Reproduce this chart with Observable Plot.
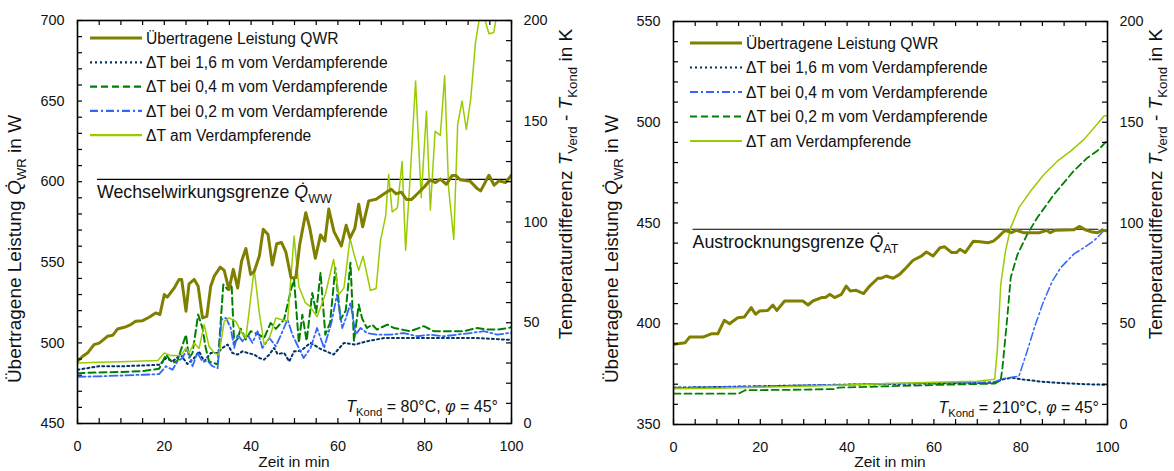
<!DOCTYPE html>
<html><head><meta charset="utf-8">
<script src="https://cdn.jsdelivr.net/npm/d3@7"></script>
<script src="https://cdn.jsdelivr.net/npm/@observablehq/plot@0.6"></script>
<style>
body{margin:0;background:#fff;}
#chart{position:relative;width:1174px;height:471px;font-family:"Liberation Sans",Arial,sans-serif;overflow:hidden;}
.panel{position:absolute;top:0;}
</style></head><body><div id="chart"></div>
<script>
// ---------- shared ticks ----------
const xMajor = [0, 20, 40, 60, 80, 100];
const xMinor = [0,5,10,15,20,25,30,35,40,45,50,55,60,65,70,75,80,85,90,95,100];
const kMajor = [0, 50, 100, 150, 200];
const kMinor = [0,10,20,30,40,50,60,70,80,90,100,110,120,130,140,150,160,170,180,190,200];

// ---------- left panel (T_Kond = 80 °C) ----------
const L_wMajor = [450, 500, 550, 600, 650, 700];
const L_power = [[0,488.6],[1.2,491.7],[2.3,493.7],[3.8,498.9],[5,499.9],[6.9,504.1],[8.1,504.7],[9.2,508.6],[10.8,509.7],[12.3,511.4],[13.4,513.4],[15,513.8],[16.5,515.9],[18,518.6],[19,517.6],[20,530],[20.7,528.4],[22.3,534.1],[23.4,539.4],[24,539.4],[25,519.7],[25.7,536.6],[26.9,539.4],[27.8,535.2],[28.8,515.5],[29.8,516.5],[30.7,535.2],[31.5,541.4],[32.9,547],[33.8,545],[34.9,533.1],[35.9,545.6],[36.9,534.1],[37.8,550.7],[38.8,558.6],[39.9,542.5],[40.7,544.2],[41.9,553.9],[42.8,570.5],[43.9,567.3],[44.9,548.3],[45.9,561.5],[47,562.3],[48,556.5],[49.2,540.4],[50.3,540.4],[51.2,561.1],[52.6,580.8],[53.5,571.5],[54.8,552.5],[56,567],[57,563.2],[57.9,583],[59.1,569],[60.8,560.1],[61.9,573],[62.8,565],[63.9,571],[64.8,586],[65.7,572],[67.1,588.1],[68.8,589.1],[71,593.2],[72.3,595.3],[73.4,592.5],[74.6,593.5],[75.8,589],[77,589],[78.5,593],[80,597],[81.2,601],[82.5,599.5],[83.6,601.6],[85,598.4],[86.3,603.8],[87.2,603.8],[88.2,601.2],[90.5,600.2],[92,596],[92.9,594.3],[94.8,604],[96,597.8],[97.1,600.5],[98.6,599.5],[100,604]];
const L_dT16 = [[0,26.7],[5,28.4],[10,28.4],[15,28.8],[19,29.2],[20.4,32.5],[21.9,30.8],[23.8,34.2],[25.3,29.5],[26.9,32.5],[28,35.8],[29.2,30.8],[30.7,35],[32.3,35],[33.4,37.5],[34.6,39.2],[35.7,35],[36.9,34.2],[38,35.8],[39.2,35],[40.7,34.2],[41.9,32.5],[43,31.7],[44.2,34.2],[45.3,37.5],[46.1,34.5],[47.6,35],[48.8,30.8],[49.9,35.8],[51.4,36],[53.7,40],[56,37],[59,34.2],[61.4,40],[64,39.2],[66.7,40.8],[70.6,42.4],[76,42.4],[80,42.4],[87.5,42.4],[92.1,42.4],[99,41.6],[100,41.6]];
const L_dT04 = [[0,25],[5,25.3],[10,25.6],[15,26],[18.8,27.2],[20.4,34.2],[21.9,30],[23,31],[25,44.1],[25.7,32.5],[26.5,35],[27.8,54.1],[28.8,47.4],[29.5,38],[30.3,30.8],[31.5,30],[32.3,29.2],[33.6,69],[34.6,66.5],[35.5,69],[36.1,40],[36.9,42],[37.6,47],[38.8,41.6],[39.9,45.8],[41.9,44],[43,42.4],[44.5,49.9],[45.7,47],[47.6,51.6],[49.2,66.5],[49.9,71.5],[51,40],[51.8,54],[52.8,41],[54.1,64.8],[55,55],[56,74.8],[57.1,44.1],[58.2,50],[59.4,77.3],[60.6,51.6],[61.8,56],[62.9,79.8],[63.7,40.8],[64.8,59],[65.6,52],[66.7,47.4],[67.9,49.1],[69,46.6],[71.4,49.1],[72.9,47.4],[74.8,46.6],[76.7,45.8],[79.8,48.3],[82.1,45.8],[85.2,45.8],[89,45.8],[92.1,47.4],[94.4,46.6],[96.7,46.6],[99.4,47.4],[100,48]];
const L_dT02 = [[0,23.2],[5,23.4],[10,23.8],[15,24.2],[18.8,24.5],[20.4,28.4],[21.9,26.7],[23,30.8],[24.2,32.5],[25.3,37.5],[26.5,28.4],[27.6,35],[28.8,30.8],[30,31],[31.1,28.4],[32.3,27.5],[33.2,51.6],[34.2,52.4],[35.3,47.4],[36.1,37.5],[36.9,44.1],[38,40.8],[39.2,44.1],[40.3,40],[41.5,45.8],[42.6,37.5],[44.2,42.4],[45.7,38.3],[46.9,44.1],[48.4,51.6],[49.5,44.1],[50.6,39.2],[52.1,32.5],[53.7,37.5],[55.2,47.4],[56.8,37.5],[58.5,50],[59.8,64],[61,47.4],[61.8,52],[62.9,59.9],[64.1,44.1],[65.2,47.4],[66.7,44.9],[69,44.1],[72.1,44.1],[75.2,44.9],[78.3,43.3],[81.3,44.1],[84.4,43.3],[87.5,44.1],[90.6,44.9],[93.6,45.8],[96.7,44.1],[99.4,44.9],[100,45]];
const L_dTend = [[0,30],[5,30.4],[10,30.7],[15,31],[18.5,31.3],[20,35],[21.5,33.7],[23.8,33.7],[25,37.5],[25.7,35],[26.9,40],[28,37.2],[29.2,49],[30.3,38.3],[31.5,35],[32.6,34],[33.8,50.7],[34.9,52.4],[36.5,50.7],[37.6,45.8],[38.8,42.4],[40.7,76.5],[41.9,54.9],[43,39.2],[44.2,42.4],[45.7,52.4],[48.4,50.7],[49.9,93],[51,68],[52.5,60],[53.6,58],[55.2,53],[57.1,64],[59,81.4],[60.2,64],[61.4,67.3],[62.8,92],[63.7,84],[64.8,76],[65.8,83],[67.5,66],[68.8,67],[69.8,90.5],[71,103],[71.7,123.7],[72.5,105],[73.7,107],[74.8,130],[75.6,86],[76.7,124],[77.9,170],[79.2,112],[80.4,155],[81.3,106],[82.4,145],[83.6,143],[84.6,172.6],[85.5,117],[86.7,91.4],[87.6,148.6],[88.6,160],[89.6,146],[90.6,161],[91.7,189],[92.6,201],[93.8,201],[94.8,193.4],[95.9,194],[96.8,205],[100,210]];
const L_limit = {w: 601.5, t0: 4.6, t1: 99.6};

// ---------- right panel (T_Kond = 210 °C) ----------
const R_wMajor = [350, 400, 450, 500, 550];
const R_power = [[0,389.8],[2.7,390.6],[3.7,393.4],[6.8,393.4],[8.7,395],[10.2,395],[11.7,401.7],[12.9,400],[14.8,403],[16.3,403.3],[17.9,408],[18.9,404.7],[19.8,406.3],[21.7,406.6],[22.9,409.3],[23.8,406.6],[25.6,411.3],[29.8,411.3],[31,409.3],[32.1,411.3],[34.1,413],[35,413],[36,414.6],[37.1,413],[38.7,414.6],[39.8,418.7],[40.7,416.3],[42.1,416.6],[43.8,415],[45.2,418.7],[47.1,422.6],[47.9,422.6],[49,423.7],[50.6,422.6],[52.1,424.5],[53.6,427.8],[55.2,431.5],[57.1,433.6],[58.3,435.6],[59.8,433.6],[61.4,437.7],[62.5,438.2],[64.1,435.3],[65.2,435.3],[66,437],[67.2,435.3],[69.1,441],[70.6,440.7],[72.5,440.2],[73.7,441],[74.8,443],[76.4,446.4],[77.9,445.2],[79,446.4],[80.6,445.2],[84.4,445.2],[86,446.4],[86.8,445.2],[88,446.4],[92.2,446.6],[93.6,448.3],[94.9,446.6],[96.5,445.5],[97.7,445.2],[98.8,446.6],[100,446]];
const R_dT16 = [[0,18.3],[10,18.6],[20,19],[30,19.4],[40,19.8],[50,20.1],[60,20.4],[70,20.6],[74,20.8],[76,22.5],[78,23.2],[80,22.5],[85,21.2],[90,20.5],[95,20],[100,19.7]];
const R_dT04 = [[0,18.3],[10,18.6],[20,19],[30,19.5],[40,19.8],[50,20.3],[60,20.6],[70,20.8],[74,21.2],[76,22.8],[78,23.5],[79.6,24],[81.5,36.5],[83.4,49.7],[85.3,61.3],[87.3,71.2],[89.2,77.8],[92.2,84.5],[94.5,87.7],[96.8,91],[99.1,96],[100,96.5]];
const R_dT02 = [[0,15.3],[15,15.3],[16.5,17],[30,17.3],[37,17.6],[38,18.3],[50,19],[60,19.6],[74,20.3],[75.4,22],[75.8,28.2],[76.9,53],[77.7,72.9],[79.2,84],[81.5,94.4],[83.8,102.6],[87.7,114.2],[92.2,125.8],[95.4,132.4],[97.6,135.7],[100,141]];
const R_dTend = [[0,17.8],[10,18],[20,18.5],[30,19],[40,19.6],[50,20.3],[60,21],[70,21.5],[74,22.4],[74.6,36.5],[75.4,69.6],[76.5,86.1],[77.7,97.7],[79.6,107.6],[82.3,115.9],[85.4,124.2],[88.5,130.8],[91.5,135.7],[94.6,141.5],[96.9,147.3],[99.2,153.1],[100,153.4]];
const R_limit = {w: 446.9, t0: 4.5, t1: 98};

// ---------- labels ----------
const labelPower = "Übertragene Leistung QWR";
const label16 = "ΔT bei 1,6 m vom Verdampferende";
const label04 = "ΔT bei 0,4 m vom Verdampferende";
const label02 = "ΔT bei 0,2 m vom Verdampferende";
const labelEnd = "ΔT am Verdampferende";

// ---------- styles ----------
const sPower = {stroke: "#808000", width: 3, dash: null};
const s16 = {stroke: "#003366", width: 2, dash: "2 3"};
const s04L = {stroke: "#008000", width: 2, dash: "7 4"};
const s02L = {stroke: "#3366ff", width: 1.8, dash: "8 3 2 3"};
const sEnd = {stroke: "#99cc00", width: 1.5, dash: null};

const FONT = '"Liberation Sans", Arial, sans-serif';

function addRich(g, x, y, parts, size, anchor, rotate) {
  const t = g.append("text").attr("x", x).attr("y", y)
    .attr("font-size", size).attr("font-family", FONT).attr("fill", "#111")
    .attr("text-anchor", anchor || "start");
  if (rotate) t.attr("transform", `rotate(${rotate},${x},${y})`);
  let shifted = false;
  for (const p of parts) {
    const ts = t.append("tspan").text(p.t);
    if (p.i) ts.attr("font-style", "italic");
    if (p.sub && !shifted) { ts.attr("dy", size * 0.28).attr("font-size", size * 0.7); shifted = true; }
    else if (p.sub) ts.attr("font-size", size * 0.7);
    else if (shifted) { ts.attr("dy", -size * 0.28); shifted = false; }
  }
  return t;
}

function makePanel(cfg) {
  const W = 587, H = 471;
  const fw = W - cfg.ml - cfg.mr, fh = H - cfg.mt - cfg.mb;
  const toW = cfg.toW, fromW = cfg.fromW;
  const wMinor = d3.range(cfg.wDomain[0], cfg.wDomain[1] + 0.1, 10);
  const marks = [
    Plot.ruleY([cfg.limit], {y: d => d.w, x1: d => d.t0, x2: d => d.t1, stroke: "black", strokeWidth: 1.2})
  ];
  for (const s of cfg.series) {
    marks.push(Plot.line(s.data, {x: d => d[0], y: d => toW(d[1]), stroke: s.style.stroke, strokeWidth: s.style.width, strokeDasharray: s.style.dash, clip: true, curve: "linear"}));
  }
  marks.push(Plot.line(cfg.power, {x: d => d[0], y: d => d[1], stroke: sPower.stroke, strokeWidth: sPower.width, strokeLinejoin: "round", clip: true}));
  // ticks (inward)
  marks.push(Plot.tickX(xMinor, {x: d => d, insetTop: fh - 5, stroke: "black", strokeWidth: 1.2}));
  marks.push(Plot.tickX(xMinor, {x: d => d, insetBottom: fh - 5, stroke: "black", strokeWidth: 1.2}));
  marks.push(Plot.tickY(wMinor, {y: d => d, insetRight: fw - 5, stroke: "black", strokeWidth: 1.2}));
  marks.push(Plot.tickY(kMinor.map(toW), {y: d => d, insetLeft: fw - 5, stroke: "black", strokeWidth: 1.2}));
  marks.push(Plot.frame({stroke: "black", strokeWidth: 1.6}));
  marks.push(Plot.axisX(xMajor, {tickSize: 0, tickPadding: 17, label: null, fill: "#111"}));
  marks.push(Plot.axisY(cfg.wMajor, {anchor: "left", tickSize: 0, tickPadding: 13, label: null, fill: "#111"}));
  marks.push(Plot.axisY(kMajor.map(toW), {anchor: "right", tickSize: 0, tickPadding: 12, label: null, fill: "#111", tickFormat: w => String(Math.round(fromW(w)))}));

  const plot = Plot.plot({
    width: W, height: H,
    marginTop: cfg.mt, marginBottom: cfg.mb, marginLeft: cfg.ml, marginRight: cfg.mr,
    x: {domain: [0, 100], axis: null},
    y: {domain: cfg.wDomain, axis: null},
    style: {fontFamily: FONT, fontSize: "14.4px", background: "white", color: "#111", overflow: "visible"},
    marks
  });
  plot.classList.add("panel");
  plot.style.left = cfg.left + "px";
  const svg = d3.select(plot);
  const xs = plot.scale("x"), ys = plot.scale("y");
  const g = svg.append("g").attr("text-anchor", "start");
  // limit annotation
  addRich(g, xs.apply(cfg.limit.t0), ys.apply(cfg.limit.w) + 19,
    [{t: cfg.limitText + " "}, {t: "Q\u0307", i: true}, {t: cfg.limitSub, sub: true}], 17.8, "start");
  // condition annotation
  addRich(g, cfg.ml + fw - cfg.condInset, cfg.mt + fh - 11,
    [{t: "T", i: true}, {t: "Kond", sub: true}, {t: ` = ${cfg.condT}°C, `}, {t: "φ", i: true}, {t: " = 45°"}], 16, "end");
  // axis titles
  addRich(g, cfg.ml + fw / 2, 467, [{t: "Zeit in min"}], 15.5, "middle");
  addRich(g, cfg.yLabelX, 249, [{t: "Übertragene Leistung "}, {t: "Q\u0307", i: true}, {t: "WR", sub: true}, {t: " in W"}], 19, "middle", -90);
  addRich(g, cfg.y2LabelX, 184, [{t: "Temperaturdifferenz "}, {t: "T", i: true}, {t: "Verd", sub: true}, {t: " - "}, {t: "T", i: true}, {t: "Kond", sub: true}, {t: " in K"}], 19, "middle", -90);
  // legend
  const leg = [
    {label: labelPower, style: sPower},
    ...cfg.series.slice().sort((a, b) => a.order - b.order).map(s => ({label: s.label, style: s.style}))
  ];
  leg.forEach((e, i) => {
    const y = cfg.legY + i * cfg.legStep;
    g.append("line").attr("x1", cfg.legX).attr("x2", cfg.legX + 52).attr("y1", y).attr("y2", y)
      .attr("stroke", e.style.stroke).attr("stroke-width", e.style.width === 3 ? 3 : 2.2)
      .attr("stroke-dasharray", e.style.dash);
    g.append("text").attr("x", cfg.legX + 56).attr("y", y).attr("dy", "0.36em")
      .attr("text-anchor", "start")
      .attr("font-size", 15.6).attr("font-family", FONT).attr("fill", "#111").text(e.label);
  });
  return plot;
}

const chart = document.getElementById("chart");
chart.appendChild(makePanel({
  left: 0, mt: 20, mb: 48, ml: 77, mr: 76,
  wDomain: [450, 700], wMajor: L_wMajor,
  toW: k => 450 + k * 1.25, fromW: w => (w - 450) / 1.25,
  power: L_power, limit: L_limit, limitText: "Wechselwirkungsgrenze", limitSub: "WW",
  condT: 80, condInset: 13, yLabelX: 21, y2LabelX: 572,
  legX: 90, legY: 38, legStep: 24.3,
  series: [
    {data: L_dT16, style: s16, label: label16, order: 1},
    {data: L_dT04, style: s04L, label: label04, order: 2},
    {data: L_dT02, style: s02L, label: label02, order: 3},
    {data: L_dTend, style: sEnd, label: labelEnd, order: 4}
  ]
}));
chart.appendChild(makePanel({
  left: 587, mt: 21, mb: 47, ml: 86, mr: 67,
  wDomain: [350, 550], wMajor: R_wMajor,
  toW: k => 350 + k, fromW: w => w - 350,
  power: R_power, limit: R_limit, limitText: "Austrocknungsgrenze", limitSub: "AT",
  condT: 210, condInset: 8, yLabelX: 31, y2LabelX: 575,
  legX: 103, legY: 43, legStep: 24.5,
  series: [
    {data: R_dT16, style: s16, label: label16, order: 1},
    {data: R_dT04, style: {stroke: "#3366ff", width: 1.5, dash: "8 3 2 3"}, label: label04, order: 2},
    {data: R_dT02, style: {stroke: "#008000", width: 1.8, dash: "7 4"}, label: label02, order: 3},
    {data: R_dTend, style: sEnd, label: labelEnd, order: 4}
  ]
}));
</script></body></html>
